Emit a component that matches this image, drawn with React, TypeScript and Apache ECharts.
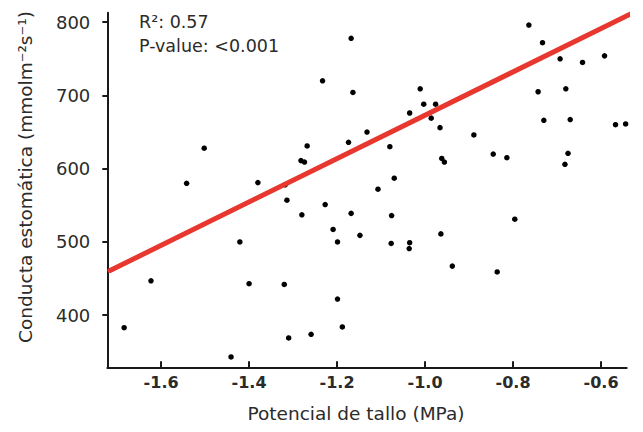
import React, { useEffect, useRef } from "react";
import * as echarts from "echarts";

// Stem water potential (MPa)
const stemPotential: number[] = [
  -1.684, -1.623, -1.542, -1.502, -1.441, -1.421, -1.400, -1.380, -1.320, -1.318,
  -1.314, -1.310, -1.282, -1.274, -1.268, -1.280, -1.259, -1.233, -1.227, -1.209,
  -1.199, -1.199, -1.188, -1.174, -1.168, -1.168, -1.164, -1.148, -1.132, -1.107,
  -1.080, -1.076, -1.077, -1.070, -1.035, -1.035, -1.036, -1.011, -1.003, -0.986,
  -0.976, -0.966, -0.964, -0.962, -0.956, -0.938, -0.889, -0.845, -0.836, -0.814,
  -0.796, -0.764, -0.743, -0.733, -0.730, -0.693, -0.682, -0.680, -0.675, -0.670,
  -0.642, -0.592, -0.567, -0.544,
];

// Stomatal conductance (mmol m-2 s-1)
const conductance: number[] = [
  383, 447, 580, 628, 343, 500, 443, 581, 442, 578,
  557, 369, 611, 609, 631, 537, 374, 720, 551, 517,
  500, 422, 384, 636, 778, 539, 704, 509, 650, 572,
  630, 536, 498, 587, 676, 499, 491, 709, 688, 669,
  688, 656, 511, 614, 609, 467, 646, 620, 459, 615,
  531, 796, 705, 772, 666, 750, 606, 709, 621, 667,
  745, 754, 660, 661,
];

// Fitted regression line end points
const fitX: number[] = [-1.716, -0.52];
const fitY: number[] = [461, 815];

const xTicks: number[] = [-1.6, -1.4, -1.2, -1.0, -0.8, -0.6];
const yTicks: number[] = [400, 500, 600, 700, 800];

const xTitle = "Potencial de tallo (MPa)";
const yTitle = "Conducta estomática (mmolm⁻²s⁻¹)";
const r2Text = "R²: 0.57";
const pText = "P-value: <0.001";

const FONT = "'DejaVu Sans', 'Noto Sans', sans-serif";
const TEXT = "#2b2b2b";
const AXIS = "#1a1a1a";

export default function App() {
  const ref = useRef<HTMLDivElement>(null);

  useEffect(() => {
    if (!ref.current) return;
    const chart = echarts.init(ref.current, undefined, { renderer: "svg" });
    const points = stemPotential.map((x, i) => [x, conductance[i]]);
    const fit = fitX.map((x, i) => [x, fitY[i]]);

    chart.setOption({
      animation: false,
      backgroundColor: "#ffffff",
      grid: { left: 107.3, right: 16.3, top: 12.7, bottom: 64.7, containLabel: false },
      xAxis: {
        type: "value",
        min: -1.7223,
        max: -0.5416,
        axisLine: { show: true, onZero: false, lineStyle: { color: AXIS, width: 2 } },
        axisTick: {
          show: true,
          inside: true,
          length: 6,
          customValues: xTicks,
          lineStyle: { color: AXIS, width: 2 },
        },
        axisLabel: {
          show: true,
          customValues: xTicks,
          margin: 7,
          fontFamily: FONT,
          fontSize: 16,
          fontWeight: "bold",
          color: TEXT,
          formatter: (v: number) => v.toFixed(1),
        },
        splitLine: { show: false },
      },
      yAxis: {
        type: "value",
        min: 328.9,
        max: 812.9,
        axisLine: { show: true, onZero: false, lineStyle: { color: AXIS, width: 2 } },
        axisTick: {
          show: true,
          inside: false,
          length: 5,
          customValues: yTicks,
          lineStyle: { color: AXIS, width: 2 },
        },
        axisLabel: {
          show: true,
          customValues: yTicks,
          margin: 17,
          fontFamily: FONT,
          fontSize: 18,
          color: TEXT,
        },
        splitLine: { show: false },
      },
      graphic: [
        {
          type: "text",
          x: 139,
          y: 21.7,
          style: { text: r2Text, fill: TEXT, fontFamily: FONT, fontSize: 17.5, align: "left", verticalAlign: "middle" },
        },
        {
          type: "text",
          x: 139,
          y: 46.2,
          style: { text: pText, fill: TEXT, fontFamily: FONT, fontSize: 17.5, align: "left", verticalAlign: "middle" },
        },
        {
          type: "text",
          x: 356,
          y: 413,
          style: { text: xTitle, fill: TEXT, fontFamily: FONT, fontSize: 18.5, align: "center", verticalAlign: "middle" },
        },
        {
          type: "text",
          x: 25,
          y: 177,
          rotation: Math.PI / 2,
          style: { text: yTitle, fill: TEXT, fontFamily: FONT, fontSize: 18.5, align: "center", verticalAlign: "middle" },
        },
      ],
      series: [
        {
          type: "scatter",
          data: points,
          symbol: "circle",
          symbolSize: 5.5,
          itemStyle: { color: "#000000", opacity: 1 },
          z: 2,
        },
        {
          type: "line",
          data: fit,
          showSymbol: false,
          symbol: "none",
          clip: false,
          lineStyle: { color: "#e8372f", width: 5, cap: "round", opacity: 1 },
          z: 3,
        },
      ],
    });

    return () => chart.dispose();
  }, []);

  return (
    <div
      ref={ref}
      style={{ position: "absolute", left: 0, top: 0, width: 643, height: 432 }}
    />
  );
}
